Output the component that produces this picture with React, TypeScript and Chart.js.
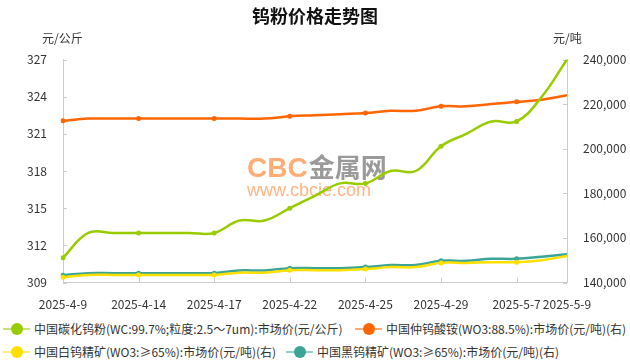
import React, { useEffect, useRef } from 'react';
import { Chart, registerables } from 'chart.js';

Chart.register(...registerables);

const FONT = '"Microsoft YaHei", "Noto Sans CJK SC", "Noto Sans", sans-serif';

const title = '钨粉价格走势图';
const leftUnit = '元/公斤';
const rightUnit = '元/吨';

const categories = [
  '2025-4-9', '2025-4-10', '2025-4-11', '2025-4-14', '2025-4-15', '2025-4-16', '2025-4-17',
  '2025-4-18', '2025-4-21', '2025-4-22', '2025-4-23', '2025-4-24', '2025-4-25', '2025-4-27',
  '2025-4-28', '2025-4-29', '2025-4-30', '2025-5-6', '2025-5-7', '2025-5-8', '2025-5-9',
];

const seriesNames = [
  '中国碳化钨粉(WC:99.7%;粒度:2.5～7um):市场价(元/公斤)',
  '中国仲钨酸铵(WO3:88.5%):市场价(元/吨)(右)',
  '中国白钨精矿(WO3:≥65%):市场价(元/吨)(右)',
  '中国黑钨精矿(WO3:≥65%):市场价(元/吨)(右)',
];

const seriesColors = ['#99cc00', '#ff6600', '#ffdf00', '#3aa597'];

const wcPowder = [311, 313, 313, 313, 313, 313, 313, 314, 314, 315, 316, 317, 317, 318, 318, 320, 321, 322, 322, 324, 327];
const apt = [212500, 213500, 213500, 213500, 213500, 213500, 213500, 213500, 213500, 214500, 215000, 215500, 216000, 217000, 217000, 219000, 219000, 220000, 221000, 222000, 224000];
const scheelite = [142400, 143400, 143400, 143400, 143400, 143400, 143400, 144400, 144400, 145500, 145500, 145500, 146000, 146900, 146900, 148800, 148800, 149100, 149100, 150000, 151900];
const wolframite = [143300, 144200, 144200, 144200, 144200, 144200, 144200, 145400, 145400, 146400, 146400, 146400, 146900, 147800, 147800, 149700, 149700, 150600, 150600, 151600, 152700];

const leftMin = 309;
const leftMax = 327;
const leftStep = 3;
const rightMin = 140000;
const rightMax = 240000;
const rightStep = 20000;

const showLabel = (i: number) => i % 3 === 0 || i === categories.length - 1;

const watermark = {
  id: 'watermark',
  beforeDatasetsDraw(chart: any) {
    const ctx = chart.ctx;
    ctx.save();
    ctx.textBaseline = 'alphabetic';
    ctx.textAlign = 'left';
    ctx.font = 'bold 28px "Liberation Sans", Arial, sans-serif';
    ctx.fillStyle = '#ffad75';
    ctx.fillText('CBC', 247, 177);
    const w = ctx.measureText('CBC').width;
    ctx.font = 'bold 26px "Noto Sans CJK SC", sans-serif';
    ctx.fillStyle = '#9a9a9a';
    ctx.fillText('金属网', 247 + w + 1, 177);
    ctx.font = '18px "Liberation Sans", Arial, sans-serif';
    ctx.fillStyle = '#ffb585';
    ctx.fillText('www.cbcie.com', 247, 196);
    ctx.restore();
  },
};

const innerTicks = {
  id: 'innerTicks',
  beforeDatasetsDraw(chart: any) {
    const { ctx, chartArea, scales } = chart;
    ctx.save();
    ctx.strokeStyle = '#cccccc';
    ctx.lineWidth = 1;
    ctx.beginPath();
    scales.y.ticks.forEach((_t: any, i: number) => {
      const y = Math.round(scales.y.getPixelForTick(i)) + 0.5;
      ctx.moveTo(chartArea.left, y);
      ctx.lineTo(chartArea.left + 4, y);
    });
    scales.y1.ticks.forEach((_t: any, i: number) => {
      const y = Math.round(scales.y1.getPixelForTick(i)) + 0.5;
      ctx.moveTo(chartArea.right, y);
      ctx.lineTo(chartArea.right - 4, y);
    });
    scales.x.ticks.forEach((_t: any, i: number) => {
      if (!showLabel(i)) return;
      const x = Math.round(scales.x.getPixelForTick(i)) + 0.5;
      ctx.moveTo(x, chartArea.bottom);
      ctx.lineTo(x, chartArea.bottom - 5);
    });
    ctx.stroke();
    ctx.restore();
  },
};

const makeDataset = (idx: number, data: number[], axis: string) => ({
  label: seriesNames[idx],
  data,
  yAxisID: axis,
  borderColor: seriesColors[idx],
  backgroundColor: seriesColors[idx],
  borderWidth: 2.5,
  tension: 0.4,
  pointRadius: (c: any) => (c.dataIndex % 3 === 0 ? 2.5 : 0),
  pointHoverRadius: 0,
  pointBorderWidth: 0,
  fill: false,
});

export default function App() {
  const ref = useRef<HTMLCanvasElement>(null);

  useEffect(() => {
    document.body.style.margin = '0';
    const tickFont = { size: 12, family: FONT };
    const chart = new Chart(ref.current as HTMLCanvasElement, {
      type: 'line',
      data: {
        labels: categories,
        datasets: [
          makeDataset(0, wcPowder, 'y'),
          makeDataset(1, apt, 'y1'),
          makeDataset(2, scheelite, 'y1'),
          makeDataset(3, wolframite, 'y1'),
        ] as any,
      },
      options: {
        responsive: false,
        animation: false,
        layout: { padding: { top: 59.5, left: 0, right: 0, bottom: 0 } },
        plugins: { legend: { display: false }, tooltip: { enabled: false } },
        scales: {
          x: {
            offset: false,
            grid: { display: false },
            border: { color: '#cccccc' },
            ticks: {
              autoSkip: false,
              maxRotation: 0,
              minRotation: 0,
              padding: 7,
              color: '#333333',
              font: tickFont,
              callback: (_v: any, i: number) => (showLabel(i) ? categories[i] : ''),
            },
            afterFit: (s: any) => { s.height = 27.5; },
          },
          y: {
            position: 'left',
            min: leftMin,
            max: leftMax,
            grid: { display: false },
            border: { color: '#cccccc' },
            ticks: { stepSize: leftStep, padding: 8, color: '#333333', font: tickFont },
            afterFit: (s: any) => { s.width = 63; },
          },
          y1: {
            position: 'right',
            min: rightMin,
            max: rightMax,
            grid: { display: false },
            border: { color: '#cccccc' },
            ticks: {
              stepSize: rightStep,
              padding: 8,
              color: '#333333',
              font: tickFont,
              callback: (v: any) => Number(v).toLocaleString('en-US'),
            },
            afterFit: (s: any) => { s.width = 63; },
          },
        },
      } as any,
      plugins: [watermark, innerTicks],
    });
    return () => chart.destroy();
  }, []);

  const legendPos = [
    { left: 3, top: 329 },
    { left: 355, top: 329 },
    { left: 3, top: 352 },
    { left: 286, top: 352 },
  ];

  return (
    <div style={{ position: 'relative', width: 630, height: 360, background: '#fff', fontFamily: FONT }}>
      <canvas ref={ref} width={630} height={310} style={{ display: 'block', width: 630, height: 310 }} />
      <div style={{ position: 'absolute', left: 0, width: 630, top: 3, textAlign: 'center', fontSize: 18, fontWeight: 'bold', color: '#111', lineHeight: '24px' }}>
        {title}
      </div>
      <div style={{ position: 'absolute', left: 42, top: 30, fontSize: 12, color: '#333', lineHeight: '16px' }}>{leftUnit}</div>
      <div style={{ position: 'absolute', left: 553, top: 30, fontSize: 12, color: '#333', lineHeight: '16px' }}>{rightUnit}</div>
      {seriesNames.map((name, i) => (
        <div key={name} style={{ position: 'absolute', left: legendPos[i].left, top: legendPos[i].top - 9, height: 18, display: 'flex', alignItems: 'center', whiteSpace: 'nowrap' }}>
          <div style={{ position: 'relative', width: 27, height: 18, marginRight: 4 }}>
            <div style={{ position: 'absolute', left: 0, top: 8, width: 27, height: 2, background: seriesColors[i], opacity: 0.55 }} />
            <div style={{ position: 'absolute', left: 7.5, top: 3, width: 12, height: 12, borderRadius: '50%', background: seriesColors[i] }} />
          </div>
          <span style={{ fontSize: 12, color: '#333', lineHeight: '18px' }}>{name}</span>
        </div>
      ))}
    </div>
  );
}
